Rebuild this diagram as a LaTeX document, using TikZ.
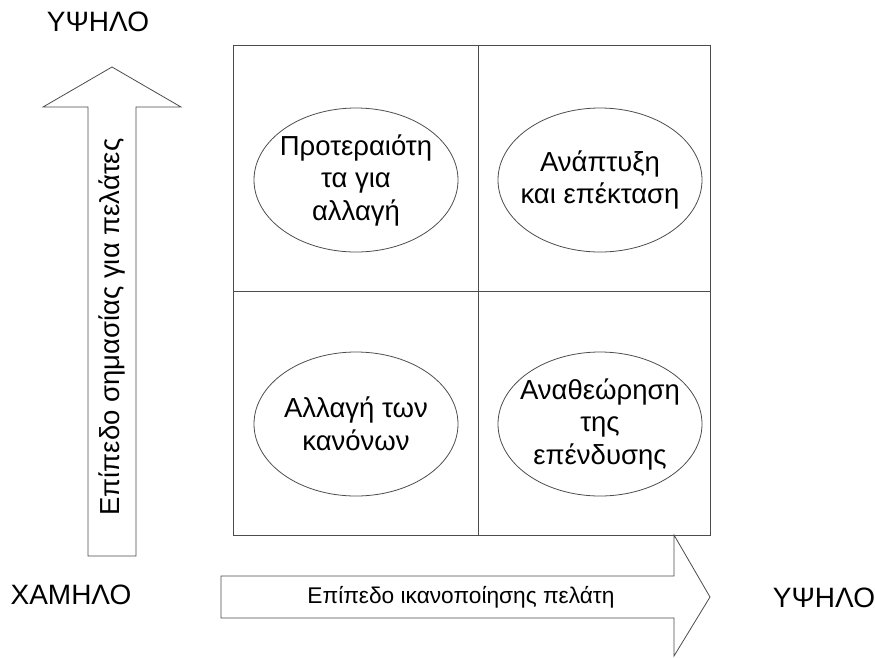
\documentclass[tikz,border=0pt]{standalone}
\usepackage{fontspec}
\setmainfont{Liberation Sans}
\usetikzlibrary{shapes.geometric}

\tikzset{
    line/.style={draw=black!70, line width=0.8pt},
    quad/.style={ellipse, line, minimum width=204pt, minimum height=144pt,
        inner sep=0pt},
    quadtext/.style={align=center, inner sep=0pt,
        font=\fontsize{27.5}{32.5}\selectfont},
    label/.style={font=\fontsize{28}{32}\selectfont},
    axis/.style={font=\fontsize{22.7}{26}\selectfont},
    vaxis/.style={font=\fontsize{27.5}{31}\selectfont, rotate=90}
}

\begin{document}
\begin{tikzpicture}[x=1pt,y=-1pt]
\useasboundingbox (0,0) rectangle (875,657);

% grid
\draw[line] (233,45) rectangle (710,535);
\draw[line] (478,45) -- (478,535);
\draw[line] (233,291) -- (710,291);

% quadrants
\node[quad] (prio) at (356,180) {};
\node[quad] (grow) at (600,180) {};
\node[quad] (rules) at (356,424) {};
\node[quad] (invest) at (600,424) {};
\node[quadtext] (priotext) at (prio.center) {Προτεραιότη\\τα για\\αλλαγή};
\node[quadtext] (growtext) at (grow.center) {Ανάπτυξη\\και επέκταση};
\node[quadtext] (rulestext) at (rules.center) {Αλλαγή των\\κανόνων};
\node[quadtext] (investtext) at (invest.center) {Αναθεώρηση\\της\\επένδυσης};

% up arrow
\draw[line, fill=white] (88,556) -- (88,107) -- (43,107) -- (112,67)
    -- (181,107) -- (136,107) -- (136,556) -- cycle;
\node[vaxis] (importance) at (112,327) {Επίπεδο σημασίας για πελάτες};

% right arrow
\draw[line, fill=white] (221,576) -- (674,576) -- (674,535) -- (710,597)
    -- (674,656) -- (674,618) -- (221,618) -- cycle;
\node[axis] (satisfaction) at (461,597) {Επίπεδο ικανοποίησης πελάτη};

% labels
\node[label] (hightop) at (98,22) {ΥΨΗΛΟ};
\node[label] (low) at (71,595) {ΧΑΜΗΛΟ};
\node[label] (highright) at (824,598) {ΥΨΗΛΟ};

\end{tikzpicture}
\end{document}
